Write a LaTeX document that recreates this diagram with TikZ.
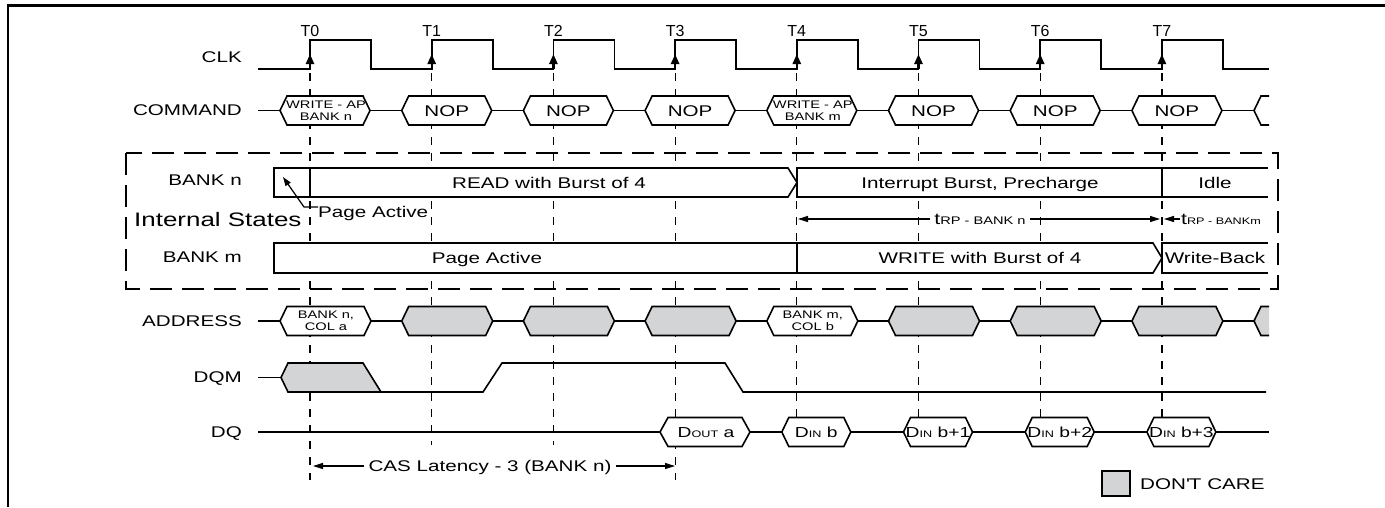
\documentclass[tikz,border=0pt]{standalone}
\usepackage{fontspec}
\setmainfont{Liberation Sans}[FakeStretch=1.33]
\newfontfamily\tickfont{Liberation Sans}
\usetikzlibrary{arrows.meta}

\definecolor{dontcare}{RGB}{211,212,214}

\tikzset{
  wave/.style={line width=1.6pt},
  riseedge/.style={line width=2.4pt, -{Triangle[length=10pt,width=8pt]}},
  guide/.style={line width=1.2pt, dash pattern=on 8pt off 8pt},
  statebox/.style={line width=1.6pt, fill=white},
  hexwhite/.style={line width=1.6pt, fill=white},
  hexgray/.style={line width=1.6pt, fill=dontcare},
  siglabel/.style={anchor=east, inner sep=0pt, text height=11.1pt, text depth=0pt, font=\fontsize{15.5}{18}\selectfont},
  bigtext/.style={inner sep=0pt, text height=11.1pt, text depth=0pt, font=\fontsize{15.5}{18}\selectfont},
  datatext/.style={inner sep=0pt, text height=10.4pt, text depth=0pt, font=\fontsize{14.5}{17}\selectfont},
  smalltext/.style={inner sep=0pt, align=center, font=\fontsize{11}{11.5}\selectfont},
  dimarrow/.style={line width=1.2pt, -{Triangle[length=10pt,width=6pt]}},
}

\begin{document}
\begin{tikzpicture}[x=1pt,y=-1pt]
\useasboundingbox (0,0) rectangle (1385,507);

%% frame
\draw[line width=3pt] (7,5) -- (1385,5);
\draw[line width=2pt] (8,5) -- (8,507);

%% guide lines
\foreach \k/\yend in {0/480,1/445,2/445,3/480,4/447,5/447,6/447,7/447} {
  \draw[guide] ({310+121.7*\k},73) -- ({310+121.7*\k},\yend);
}

%% signal names
\node[siglabel] (clk) at (242,57) {CLK};
\node[siglabel] (cmd) at (242,110) {COMMAND};
\node[siglabel] (bankn) at (242,180) {BANK n};
\node[siglabel] (bankm) at (242,257) {BANK m};
\node[siglabel] (addr) at (242,321) {ADDRESS};
\node[siglabel] (dqm) at (242,377) {DQM};
\node[siglabel] (dq) at (242,432) {DQ};

%% clock
\draw[wave] (258,69) \foreach \k in {0,...,7} {
  -- ({310+121.7*\k},69) -- ({310+121.7*\k},40) -- ({371+121.7*\k},40) -- ({371+121.7*\k},69) } -- (1269,69);
\foreach \k in {0,...,7} {
  \draw[riseedge] ({310+121.7*\k},69) -- ({310+121.7*\k},54);
  \node[inner sep=0pt, font=\tickfont\fontsize{16}{18}\selectfont] (t\k) at ({310+121.7*\k},31) {T\k};
}

%% command bus
\draw[wave] (258,110.5) -- (1269,110.5);
\foreach \k in {0,...,7} {
  \pgfmathsetmacro\tx{310+121.7*\k}
  \draw[hexwhite] ({\tx-30},110.5) -- ++(7,-14.5) -- ++(76,0) -- ++(7,14.5) -- ++(-7,14.5) -- ++(-76,0) -- cycle;
}
\fill[white] (1269,96) -- (1261,96) -- (1254,110.5) -- (1261,125) -- (1269,125) -- cycle;
\draw[wave] (1269,96) -- (1261,96) -- (1254,110.5) -- (1261,125) -- (1269,125);
\node[smalltext] (cmdwn) at (326,110.5) {WRITE - AP\\BANK n};
\node[smalltext] (cmdwm) at ({326+121.7*4},110.5) {WRITE - AP\\BANK m};
\foreach \k in {1,2,3,5,6,7} {
  \node[bigtext] (nop\k) at ({325+121.7*\k},110.5) {NOP};
}

%% internal states
\draw[statebox] (274,168) rectangle (310,197);
\draw[statebox] (310,168) -- (788,168) -- (797,182.5) -- (788,197) -- (310,197) -- cycle;
\node[bigtext] (readn) at (549,182.5) {READ with Burst of 4};
\draw[statebox] (797,168) rectangle (1162,197);
\node[bigtext] (intn) at (980,182.5) {Interrupt Burst, Precharge};
\fill[white] (1162,168) rectangle (1268,197);
\draw[wave] (1268,168) -- (1162,168) -- (1162,197) -- (1268,197);
\node[bigtext] (idlen) at (1215,182.5) {Idle};

\draw[statebox] (274,243) rectangle (797,273);
\node[bigtext] (pam) at (487,258) {Page Active};
\draw[statebox] (797,243) -- (1153,243) -- (1162,258) -- (1153,273) -- (797,273) -- cycle;
\node[bigtext] (writem) at (980,258) {WRITE with Burst of 4};
\fill[white] (1162,243) rectangle (1268,273);
\draw[wave] (1268,243) -- (1162,243) -- (1162,273) -- (1268,273);
\node[bigtext] (wbm) at (1215,258) {Write-Back};

\node[anchor=west, inner sep=0pt, font=\fontsize{19.5}{22}\selectfont] (states) at (134,220) {Internal States};

%% page active pointer
\node[bigtext, anchor=west] (pan) at (318,212) {Page Active};
\coordinate (pabend) at (304,207);
\coordinate (patip) at (283,177);
\draw[line width=1.2pt, -{Triangle[length=9pt,width=6pt]}] (pan.west |- pabend) -- (pabend) -- (patip);

%% tRP
\node[inner sep=4pt, font=\fontsize{16}{18}\selectfont] (trpn) at (980,219) {t{\fontsize{11}{12}\selectfont RP - BANK n}};
\coordinate (trpnl) at (798,219);
\coordinate (trpnr) at (1160,219);
\draw[dimarrow] (trpn.west) -- (trpnl);
\draw[dimarrow] (trpn.east) -- (trpnr);
\node[anchor=west, inner sep=1pt, font=\fontsize{16}{18}\selectfont] (trpm) at (1180,219) {t{\fontsize{9.5}{10}\selectfont RP - BANKm}};
\coordinate (trpml) at (1164,219);
\draw[dimarrow] (trpm.west) -- (trpml);

%% dashed box
\draw[line width=2.6pt, dash pattern=on 22pt off 10pt] (126,153) rectangle (1278,289);

%% address bus
\draw[wave] (258,321) -- (1269,321);
\foreach \k in {0,...,7} {
  \pgfmathsetmacro\tx{310+121.7*\k}
  \ifnum\k=0 \def\hexstyle{hexwhite}\else\ifnum\k=4 \def\hexstyle{hexwhite}\else\def\hexstyle{hexgray}\fi\fi
  \draw[\hexstyle] ({\tx-30},321) -- ++(7,-14.5) -- ++(77,0) -- ++(7,14.5) -- ++(-7,14.5) -- ++(-77,0) -- cycle;
}
\fill[dontcare] (1269,306.5) -- (1261,306.5) -- (1254,321) -- (1261,335.5) -- (1269,335.5) -- cycle;
\draw[wave] (1269,306.5) -- (1261,306.5) -- (1254,321) -- (1261,335.5) -- (1269,335.5);
\node[smalltext] (addrn) at (326,321) {BANK n,\\COL a};
\node[smalltext] (addrm) at ({326+121.7*4},321) {BANK m,\\COL b};

%% DQM
\draw[hexgray] (281,377.5) -- (288,363) -- (363,363) -- (381,392) -- (288,392) -- cycle;
\draw[wave] (258,377.5) -- (281,377.5);
\draw[wave] (381,392) -- (483,392) -- (502,363) -- (725,363) -- (743,392) -- (1266,392);

%% DQ
\draw[wave] (258,432) -- (1269,432);
\draw[hexwhite] (660,432) -- ++(8,-14.5) -- ++(74,0) -- ++(8,14.5) -- ++(-8,14.5) -- ++(-74,0) -- cycle;
\node[datatext] (dout) at (706,432) {D{\fontsize{9.5}{10}\selectfont OUT} a};
\foreach \k/\txt in {4/b,5/b+1,6/b+2,7/b+3} {
  \pgfmathsetmacro\tx{310+121.7*\k}
  \draw[hexwhite] ({\tx-15},432) -- ++(7,-14.5) -- ++(55,0) -- ++(7,14.5) -- ++(-7,14.5) -- ++(-55,0) -- cycle;
  \node[datatext] (din\k) at ({\tx+19.5},432) {D{\fontsize{9.5}{10}\selectfont IN} \txt};
}

%% CAS latency
\node[inner sep=4pt, text height=11.1pt, text depth=0pt, font=\fontsize{15.5}{18}\selectfont] (cas) at (490,466) {CAS Latency - 3 (BANK n)};
\coordinate (casl) at (313,466);
\coordinate (casr) at (675,466);
\draw[dimarrow] (cas.west) -- (casl);
\draw[dimarrow] (cas.east) -- (casr);

%% legend
\node[draw, line width=1.5pt, fill=dontcare, minimum width=28pt, minimum height=25pt, inner sep=0pt] (dcbox) at (1116,483.5) {};
\node[bigtext, anchor=west] (dctext) at (1140,483.5) {DON\textquotesingle T CARE};

\end{tikzpicture}
\end{document}
